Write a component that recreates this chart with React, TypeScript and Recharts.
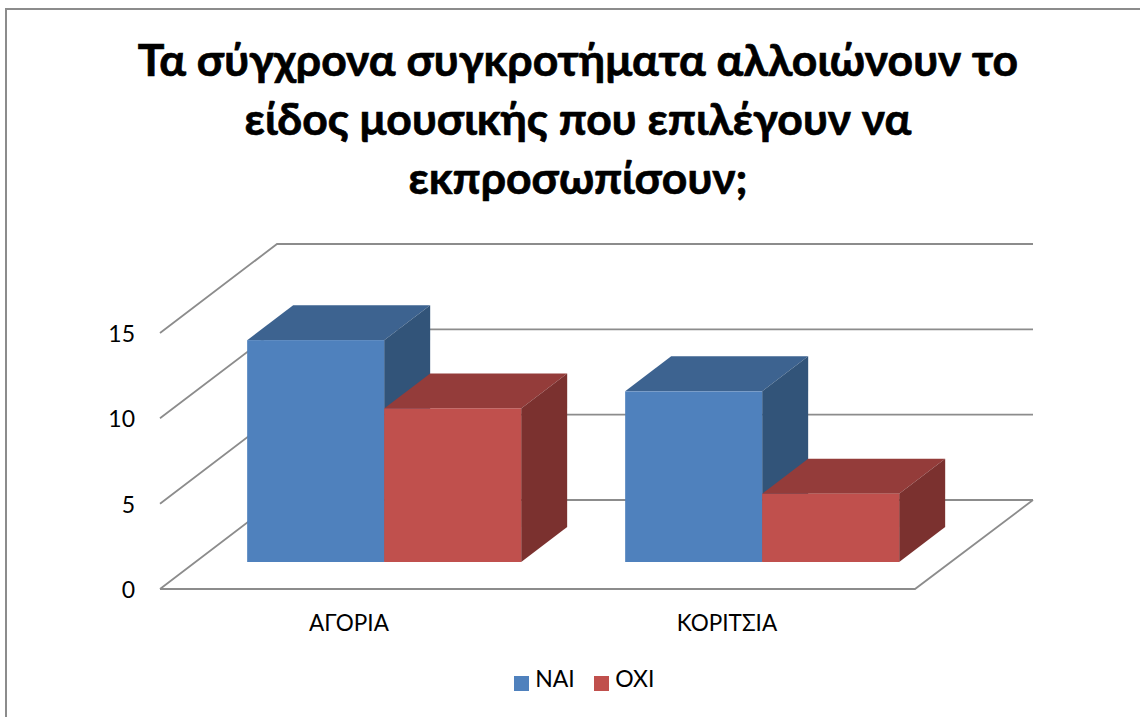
import { BarChart, Bar, XAxis, YAxis, CartesianGrid, Legend } from "recharts";

const categories = ["ΑΓΟΡΙΑ", "ΚΟΡΙΤΣΙΑ"];
const naiValues = [13, 10];
const oxiValues = [9, 4];
const yTicks = [0, 5, 10, 15];
const titleLines = [
  "Τα σύγχρονα συγκροτήματα αλλοιώνουν το",
  "είδος μουσικής που επιλέγουν να",
  "εκπροσωπίσουν;",
];

const data = categories.map((name, i) => ({
  name,
  nai: naiValues[i],
  oxi: oxiValues[i],
}));

const FONT = "Lato, Carlito, 'Open Sans', sans-serif";

// offsets of the fake 3D box
const barDepthX = 46;
const barDepthY = 35;

function makeBox(front: string, top: string, side: string) {
  return (props: any) => {
    const { x, y, width, height } = props;
    const r = x + width;
    const b = y + height;
    return (
      <g>
        <path
          d={`M${x} ${y}L${x + barDepthX} ${y - barDepthY}L${r + barDepthX} ${y - barDepthY}L${r} ${y}Z`}
          fill={top}
        />
        <path
          d={`M${r} ${y}L${r + barDepthX} ${y - barDepthY}L${r + barDepthX} ${b - barDepthY}L${r} ${b}Z`}
          fill={side}
        />
        <rect x={x} y={y} width={width} height={height} fill={front} />
      </g>
    );
  };
}

// walls and floor: front edge is 35 left / 27 down of the bar plane, back is 82 right / 62 up
function GridLine(props: any) {
  const { x1, x2, y1 } = props;
  const fx = x1 - 35;
  const fy = y1 + 27;
  const bx = x1 + 82;
  const by = y1 - 62;
  const isFloor = Math.abs(y1 - 562) < 3;
  return (
    <g fill="none" stroke="#8c8c8c" strokeWidth={1.8}>
      <path d={`M${fx} ${fy}L${bx} ${by}L${x2 + 82} ${by}`} />
      {isFloor && (
        <path d={`M${fx} ${fy}L${x2 - 36} ${fy}L${x2 + 82} ${by}`} />
      )}
    </g>
  );
}

function YTick(props: any) {
  const { y, payload } = props;
  return (
    <text x={135} y={y + 27} dy={9} textAnchor="end" fontSize={23} fontFamily={FONT} fill="#000">
      {payload.value}
    </text>
  );
}

function XTick(props: any) {
  const { x, payload } = props;
  return (
    <text x={x - 35} y={631} textAnchor="middle" fontSize={22.5} fontFamily={FONT} fill="#000">
      {payload.value}
    </text>
  );
}

export default function App() {
  return (
    <div style={{ position: "absolute", left: 0, top: 0, width: 1140, height: 717, background: "#fff", overflow: "hidden" }}>
      <div
        style={{
          position: "absolute",
          left: 5,
          top: 8,
          width: 1140,
          height: 720,
          borderLeft: "2px solid #8c8c8c",
          borderTop: "2px solid #8c8c8c",
        }}
      />
      <div
        style={{
          position: "absolute",
          left: 0,
          top: 29,
          width: 1156,
          textAlign: "center",
          fontFamily: FONT,
          fontWeight: 700,
          fontSize: 44.5,
          lineHeight: "59px",
          color: "#000",
          WebkitTextStroke: "0.7px #000",
        }}
      >
        {titleLines.map((line) => (
          <div key={line}>{line}</div>
        ))}
      </div>
      <BarChart
        width={1140}
        height={717}
        data={data}
        margin={{ top: 306, right: 189, bottom: 27, left: 0 }}
        barCategoryGap="13.8%"
        barGap={0}
        style={{ position: "absolute", left: 0, top: 0 }}
      >
        <CartesianGrid vertical={false} horizontal={(p: any) => <GridLine key={p.key} {...p} />} />
        <XAxis dataKey="name" axisLine={false} tickLine={false} tick={<XTick />} height={100} interval={0} />
        <YAxis width={195} domain={[0, 15]} ticks={yTicks} axisLine={false} tickLine={false} tick={<YTick />} />
        <Bar dataKey="nai" name="ΝΑΙ" fill="#4F81BD" isAnimationActive={false} shape={makeBox("#4F81BD", "#3D6390", "#325479")} />
        <Bar dataKey="oxi" name="ΟΧΙ" fill="#C0504D" isAnimationActive={false} shape={makeBox("#C0504D", "#943C3A", "#7B312F")} />
        <Legend
          iconType="square"
          iconSize={15}
          formatter={(v: string) => (
            <span style={{ color: "#000", fontSize: 23, fontFamily: FONT, marginLeft: 2, marginRight: 9.5 }}>{v}</span>
          )}
          wrapperStyle={{ left: 0, width: 1188, bottom: 25 }}
        />
      </BarChart>
    </div>
  );
}
